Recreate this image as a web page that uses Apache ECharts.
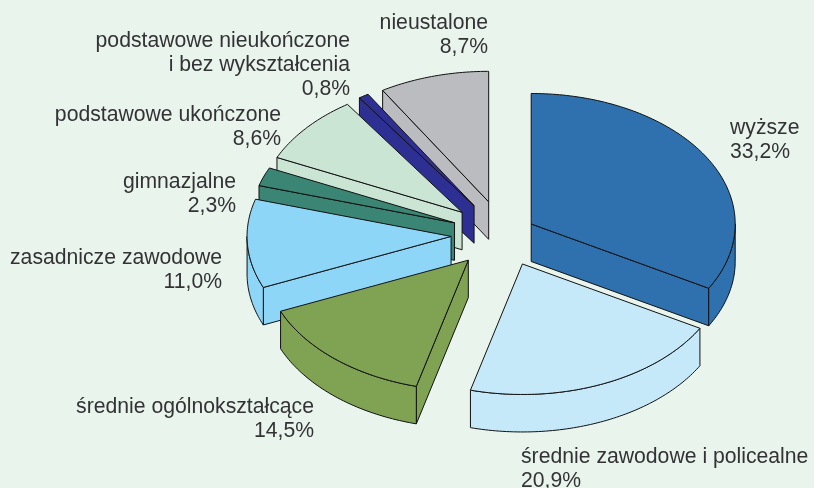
<!DOCTYPE html>
<html><head><meta charset="utf-8">
<style>html,body{margin:0;padding:0;background:#e9f4ec}#c{width:814px;height:488px}</style>
<script src="https://cdn.jsdelivr.net/npm/echarts@6/dist/echarts.min.js"></script>
</head><body><div id="c"></div>
<script>
const categories = ['wyższe','średnie zawodowe i policealne','średnie ogólnokształcące','zasadnicze zawodowe','gimnazjalne','podstawowe ukończone','podstawowe nieukończone\ni bez wykształcenia','nieustalone'];
const values = [33.2,20.9,14.5,11.0,2.3,8.6,0.8,8.7];
const explode = [0.16,0.245,0.26,0.255,0.254,0.263,0.262,0.26];
const colors = ['#2e71ae','#c6e9fa','#80a353','#8dd6f8','#3a8574','#cbe5d5','#2e2f92','#bbbcc0'];
const labelAnchors = [[730,116,'left'],[521,445,'left'],[314,395,'right'],[222,246,'right'],[236,170,'right'],[281,103,'right'],[350,29,'right'],[488,11,'right']];
const drawOrder = [6,7,5,4,3,2,1,0];
const CX=503, CY=234.5, RX=204, RY=130.5, DEPTH=37.5;
const total = values.reduce((a,b)=>a+b,0);
const starts = values.map((v,i)=>values.slice(0,i).reduce((a,b)=>a+b,0)/total*360);
const rad = d=>d*Math.PI/180;
const fmt = v=>v.toFixed(1).replace('.',',')+'%';

function renderItem(params, api){
  const i = api.value(0);
  const v = api.value(1);
  const a0 = starts[i], a1 = a0 + v/total*360, mid=(a0+a1)/2;
  const ax = CX + explode[i]*RX*Math.sin(rad(mid));
  const ay = CY - explode[i]*RY*Math.cos(rad(mid));
  const P = (t,dz)=>[ax+RX*Math.sin(rad(t)), ay-RY*Math.cos(rad(t))+(dz||0)];
  const style = {fill:colors[i], stroke:'#111', lineWidth:1, lineJoin:'round'};
  const z = drawOrder[i]*10;
  const kids = [];
  const poly = (pts,k)=>kids.push({type:'polygon',shape:{points:pts},style,z2:z+k});
  if(a0>180 && a0<360){ const p=P(a0); poly([[ax,ay],p,[p[0],p[1]+DEPTH],[ax,ay+DEPTH]],1); }
  if(a1>0 && a1<180){ const p=P(a1); poly([[ax,ay],p,[p[0],p[1]+DEPTH],[ax,ay+DEPTH]],1); }
  const w0=Math.max(a0,90), w1=Math.min(a1,270);
  if(w1>w0){
    const up=[],dn=[];
    for(let t=w0;;t=Math.min(t+1,w1)){ up.push(P(t)); dn.unshift(P(t,DEPTH)); if(t>=w1)break; }
    poly(up.concat(dn),2);
  }
  const top=[[ax,ay]];
  for(let t=a0;;t=Math.min(t+1,a1)){ top.push(P(t)); if(t>=a1)break; }
  poly(top,3);
  return {type:'group',children:kids};
}
const graphics = categories.map((c,i)=>({
  type:'text', x:labelAnchors[i][0], y:labelAnchors[i][1],
  style:{text:c+'\n'+fmt(values[i]), font:'21.2px "Liberation Sans", Arial, sans-serif', fill:'#333335', align:labelAnchors[i][2], verticalAlign:'top', lineHeight:24}
}));
const chart = echarts.init(document.getElementById('c'),null,{renderer:'canvas'});
chart.setOption({
  animation:false,
  backgroundColor:'#e9f4ec',
  graphic:graphics,
  series:[{type:'custom',coordinateSystem:'none',renderItem,silent:true,
    data:values.map((v,i)=>[i,v]),encode:{value:[1]}}]
});
</script></body></html>
